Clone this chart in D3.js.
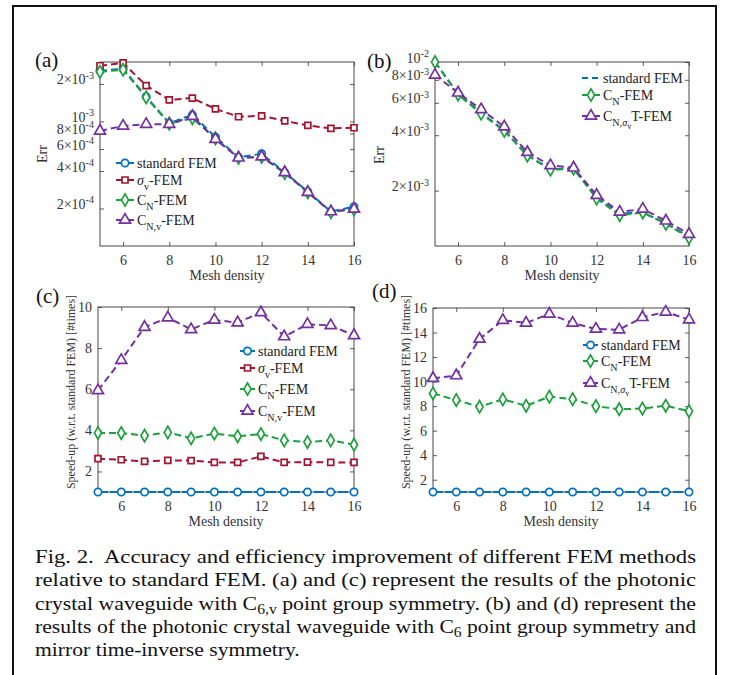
<!DOCTYPE html>
<html>
<head>
<meta charset="utf-8">
<script src="https://d3js.org/d3.v7.min.js"></script>
<style>
  body { margin: 0; background: #fff; }
  svg { display: block; font-family: "Liberation Serif", "Times New Roman", serif; }
  .tick-label { font-size: 14px; fill: #333; }
  .axis-title { font-size: 14px; fill: #333; }
  .legend text { font-size: 14px; fill: #222; }
</style>
</head>
<body>
<svg id="fig" width="735" height="675"></svg>
<script>
  // mesh density (x for all panels)
  const meshDensity = [5, 6, 7, 8, 9, 10, 11, 12, 13, 14, 15, 16];
  const xTicks = [6, 8, 10, 12, 14, 16];

  // (a) error, C6v waveguide
  const errA_standard = [2.55e-3, 2.65e-3, 1.58e-3, 9.7e-4, 1.13e-3, 7.5e-4, 5.15e-4, 5.5e-4, 3.9e-4, 2.73e-4, 1.89e-4, 2.07e-4];
  const errA_sigmaV   = [2.8e-3, 2.95e-3, 1.94e-3, 1.49e-3, 1.54e-3, 1.26e-3, 1.09e-3, 1.11e-3, 1.01e-3, 9.3e-4, 8.8e-4, 8.9e-4];
  const errA_CN       = [2.5e-3, 2.6e-3, 1.56e-3, 9.6e-4, 1.06e-3, 7.3e-4, 5.1e-4, 5.2e-4, 3.85e-4, 2.7e-4, 1.87e-4, 1.97e-4];
  const errA_CNv      = [8.4e-4, 9.2e-4, 9.5e-4, 9.5e-4, 1.1e-3, 7.2e-4, 5.1e-4, 5.2e-4, 3.9e-4, 2.7e-4, 1.89e-4, 1.98e-4];
  const ticksA = [2e-4, 4e-4, 6e-4, 8e-4, 1e-3, 2e-3];

  // (b) error, C6 waveguide
  const errB_standard = [1.0e-2, 6.7e-3, 5.3e-3, 4.25e-3, 3.12e-3, 2.62e-3, 2.64e-3, 1.83e-3, 1.5e-3, 1.52e-3, 1.33e-3, 1.12e-3];
  const errB_CN       = [1.0e-2, 6.65e-3, 5.24e-3, 4.22e-3, 3.1e-3, 2.6e-3, 2.63e-3, 1.81e-3, 1.47e-3, 1.52e-3, 1.32e-3, 1.11e-3];
  const errB_CNsT     = [8.5e-3, 6.8e-3, 5.52e-3, 4.45e-3, 3.23e-3, 2.74e-3, 2.66e-3, 1.89e-3, 1.53e-3, 1.59e-3, 1.37e-3, 1.16e-3];
  const ticksB = [2e-3, 4e-3, 6e-3, 8e-3, 1e-2];

  // (c) speed-up, C6v waveguide
  const speedC_standard = [1, 1, 1, 1, 1, 1, 1, 1, 1, 1, 1, 1];
  const speedC_sigmaV   = [2.62, 2.57, 2.49, 2.54, 2.53, 2.44, 2.44, 2.73, 2.44, 2.45, 2.44, 2.44];
  const speedC_CN       = [3.87, 3.87, 3.74, 3.9, 3.61, 3.84, 3.71, 3.82, 3.51, 3.43, 3.51, 3.3];
  const speedC_CNv      = [5.94, 7.41, 9.02, 9.48, 8.91, 9.37, 9.24, 9.73, 8.56, 9.16, 9.1, 8.62];
  const ticksC = [2, 4, 6, 8, 10];

  // (d) speed-up, C6 waveguide
  const speedD_standard = [1, 1, 1, 1, 1, 1, 1, 1, 1, 1, 1, 1];
  const speedD_CN       = [9.04, 8.49, 7.95, 8.55, 8.03, 8.77, 8.57, 8.0, 7.75, 7.8, 8.03, 7.59];
  const speedD_CNsT     = [10.27, 10.49, 13.47, 15.0, 14.78, 15.52, 14.78, 14.29, 14.23, 15.24, 15.68, 15.05];
  const ticksD = [2, 4, 6, 8, 10, 12, 14, 16];

  const blue = "#0072BD", red = "#A2142F", green = "#1DA03C", purple = "#7430A0";

  // legend / caption texts as segments: lvl 0 = base, 1 = subscript, 2 = sub-sub, -1 = superscript
  const lblStandard = [{t: "standard FEM"}];
  const lblSigmaV = [{t: "σ", it: true}, {t: "v", lvl: 1}, {t: "-FEM"}];
  const lblCN = [{t: "C"}, {t: "N", lvl: 1}, {t: "-FEM"}];
  const lblCNv = [{t: "C"}, {t: "N,v", lvl: 1}, {t: "-FEM"}];
  const lblCNsT = [{t: "C"}, {t: "N,", lvl: 1}, {t: "σ", lvl: 1, it: true}, {t: "v", lvl: 2}, {t: "T", lvl: 0}, {t: "-FEM"}];

  const svg = d3.select("#fig");

  // outer frame
  svg.append("rect").attr("x", 13).attr("y", 6).attr("width", 703).attr("height", 700)
    .attr("fill", "none").attr("stroke", "#111").attr("stroke-width", 2);

  function rich(sel, segs, base, subK) {
    let cur = 0;
    const k = subK || 0.35;
    const shift = {0: 0, 1: k * base, 2: 0.6 * base, "-1": -0.4 * base};
    segs.forEach(s => {
      const lvl = s.lvl || 0;
      const ts = sel.append("tspan").text(s.t)
        .attr("dy", shift[lvl] - cur)
        .style("font-size", (lvl === 0 ? base : lvl === 2 ? base * 0.6 : base * 0.72) + "px");
      if (s.it) ts.style("font-style", "italic");
      cur = shift[lvl];
    });
  }

  function markerPath(type) {
    const sym = {circle: [d3.symbolCircle, 42], square: [d3.symbolSquare, 36], diamond: [d3.symbolDiamond, 44], triangle: [d3.symbolTriangle, 52]}[type];
    return d3.symbol().type(sym[0]).size(sym[1])();
  }

  function panel(o) {
    const g = svg.append("g");
    const x = d3.scaleLinear().domain([5, 16]).range([o.left, o.right]);
    const y = (o.log ? d3.scaleLog() : d3.scaleLinear()).domain(o.domain).range([o.bottom, o.top]);

    // box
    g.append("rect").attr("x", o.left).attr("y", o.top)
      .attr("width", o.right - o.left).attr("height", o.bottom - o.top)
      .attr("fill", "none").attr("stroke", "#333").attr("stroke-width", 0.9);

    const ax = g.append("g");
    ax.append("g").attr("transform", `translate(0,${o.bottom})`)
      .call(d3.axisBottom(x).tickValues(xTicks).tickSizeInner(-4).tickSizeOuter(0).tickPadding(9));
    ax.append("g").attr("transform", `translate(0,${o.top})`)
      .call(d3.axisTop(x).tickValues(xTicks).tickSizeInner(-4).tickSizeOuter(0).tickFormat(""));
    const yl = ax.append("g").attr("transform", `translate(${o.left},0)`)
      .call(d3.axisLeft(y).tickValues(o.ticks).tickSizeInner(-4).tickSizeOuter(0).tickPadding(6).tickFormat(o.log ? "" : d3.format("d")));
    ax.append("g").attr("transform", `translate(${o.right},0)`)
      .call(d3.axisRight(y).tickValues(o.ticks).tickSizeInner(-4).tickSizeOuter(0).tickFormat(""));
    ax.selectAll("g").attr("font-family", null).attr("font-size", null);
    ax.selectAll(".domain").remove();
    ax.selectAll(".tick line").attr("stroke", "#333").attr("stroke-width", 0.8);
    ax.selectAll(".tick text").attr("class", "tick-label");

    if (o.log) {
      yl.selectAll(".tick").each(function(d) {
        const e = Math.floor(Math.log10(d) + 1e-9);
        const m = Math.round(d / Math.pow(10, e));
        const t = d3.select(this).select("text").attr("x", -6).attr("dy", "0.45em");
        const segs = m === 1 ? [{t: "10"}, {t: String(e), lvl: -1}] : [{t: m + "×10"}, {t: String(e), lvl: -1}];
        rich(t, segs, 14);
      });
    }

    // series
    o.series.forEach(s => {
      const pts = meshDensity.map((m, i) => [m, s.values[i]]);
      g.append("path").datum(pts)
        .attr("fill", "none").attr("stroke", s.color).attr("stroke-width", 2)
        .attr("stroke-dasharray", s.dash || "7,4")
        .attr("d", d3.line().x(d => x(d[0])).y(d => y(d[1])));
      if (s.marker) {
        g.selectAll(null).data(pts).enter().append("path")
          .attr("d", markerPath(s.marker))
          .attr("transform", d => `translate(${x(d[0])},${y(d[1])})`)
          .attr("fill", "#fff").attr("stroke", s.color).attr("stroke-width", 1.7);
      }
    });

    // legend
    const lg = g.append("g").attr("class", "legend");
    o.series.forEach((s, i) => {
      const ly = o.legend.rows[i];
      const lx = o.legend.x;
      lg.append("line").attr("x1", lx).attr("x2", lx + o.legend.len).attr("y1", ly).attr("y2", ly)
        .attr("stroke", s.color).attr("stroke-width", 2).attr("stroke-dasharray", s.marker ? null : "6,4");
      if (s.marker) {
        lg.append("path").attr("d", markerPath(s.marker))
          .attr("transform", `translate(${lx + o.legend.len / 2},${ly})`)
          .attr("fill", "#fff").attr("stroke", s.color).attr("stroke-width", 1.7);
      }
      const t = lg.append("text").attr("x", lx + o.legend.len + 3).attr("y", ly + 5);
      rich(t, s.label, 14);
    });

    // labels
    g.append("text").attr("class", "axis-title").attr("x", (o.left + o.right) / 2).attr("y", o.bottom + 34)
      .attr("text-anchor", "middle").text("Mesh density");
    g.append("text").attr("transform", `translate(${o.ylabelX},${o.ylabelY}) rotate(-90)`)
      .attr("text-anchor", "middle").style("font-size", o.ylabelSize + "px").style("fill", "#333")
      .text(o.ylabel);
    g.append("text").attr("x", o.tagX).attr("y", o.tagY).style("font-size", "21px").style("fill", "#111").text(o.tag);
  }

  panel({
    tag: "(a)", tagX: 35, tagY: 67,
    left: 100, right: 354, top: 62, bottom: 246, log: true, domain: [1e-4, 3e-3], ticks: ticksA,
    ylabel: "Err", ylabelX: 47, ylabelY: 154, ylabelSize: 14,
    legend: {x: 116, len: 18, rows: [163, 180, 200, 220]},
    series: [
      {values: errA_standard, color: blue, marker: "circle", label: lblStandard},
      {values: errA_sigmaV, color: red, marker: "square", label: lblSigmaV},
      {values: errA_CN, color: green, marker: "diamond", label: lblCN},
      {values: errA_CNv, color: purple, marker: "triangle", label: lblCNv}
    ]
  });

  panel({
    tag: "(b)", tagX: 367, tagY: 68,
    left: 435, right: 689, top: 62, bottom: 246, log: true, domain: [1e-3, 1e-2], ticks: ticksB,
    ylabel: "Err", ylabelX: 384, ylabelY: 155, ylabelSize: 14,
    legend: {x: 582, len: 18, rows: [78, 95, 116]},
    series: [
      {values: errB_standard, color: blue, marker: null, label: lblStandard},
      {values: errB_CN, color: green, marker: "diamond", label: lblCN},
      {values: errB_CNsT, color: purple, marker: "triangle", label: lblCNsT}
    ]
  });

  panel({
    tag: "(c)", tagX: 36, tagY: 303,
    left: 98, right: 354, top: 307, bottom: 492, log: false, domain: [1, 10], ticks: ticksC,
    ylabel: "Speed-up (w.r.t. standard FEM) [#times]", ylabelX: 75, ylabelY: 392, ylabelSize: 12,
    legend: {x: 240, len: 15, rows: [351, 368, 389, 411]},
    series: [
      {values: speedC_standard, color: blue, marker: "circle", label: lblStandard, dash: "10,2"},
      {values: speedC_sigmaV, color: red, marker: "square", label: lblSigmaV},
      {values: speedC_CN, color: green, marker: "diamond", label: lblCN},
      {values: speedC_CNv, color: purple, marker: "triangle", label: lblCNv}
    ]
  });

  panel({
    tag: "(d)", tagX: 372, tagY: 298,
    left: 433, right: 689, top: 308, bottom: 492, log: false, domain: [1, 16], ticks: ticksD,
    ylabel: "Speed-up (w.r.t. standard FEM) [#times]", ylabelX: 410, ylabelY: 392, ylabelSize: 12,
    legend: {x: 583, len: 15, rows: [345, 361, 383]},
    series: [
      {values: speedD_standard, color: blue, marker: "circle", label: lblStandard, dash: "10,2"},
      {values: speedD_CN, color: green, marker: "diamond", label: lblCN},
      {values: speedD_CNsT, color: purple, marker: "triangle", label: lblCNsT}
    ]
  });

  // caption (justified lines, glyphs stretched a little as in the scanned figure)
  const captionLines = [
    [{t: "Fig. 2.  Accuracy and efficiency improvement of different FEM methods"}],
    [{t: "relative to standard FEM. (a) and (c) represent the results of the photonic"}],
    [{t: "crystal waveguide with C"}, {t: "6,v", lvl: 1}, {t: " point group symmetry. (b) and (d) represent the"}],
    [{t: "results of the photonic crystal waveguide with C"}, {t: "6", lvl: 1}, {t: " point group symmetry and"}],
    [{t: "mirror time-inverse symmetry."}]
  ];
  const capX0 = 35, capX1 = 696, capY0 = 563, capDY = 23.3;
  let stretch = [];
  captionLines.forEach((segs, i) => {
    const t = svg.append("text").attr("x", capX0).attr("y", capY0 + i * capDY)
      .style("font-size", "19px").style("fill", "#111").style("white-space", "pre");
    rich(t, segs, 19, 0.22);
    const w = t.node().getComputedTextLength();
    if (i < captionLines.length - 1) {
      stretch.push((capX1 - capX0) / w);
      t.attr("textLength", capX1 - capX0).attr("lengthAdjust", "spacingAndGlyphs");
    } else {
      const s = d3.min(stretch.slice(1));
      t.attr("textLength", w * s).attr("lengthAdjust", "spacingAndGlyphs");
    }
  });
</script>
</body>
</html>
